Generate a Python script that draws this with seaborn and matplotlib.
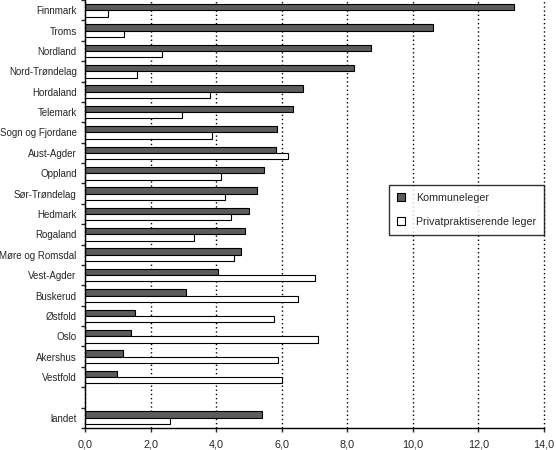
import pandas as pd
import matplotlib
matplotlib.use("Agg")
import matplotlib.pyplot as plt
import seaborn as sns
from matplotlib.ticker import FuncFormatter, FixedLocator

# data
fylker = ["Finnmark", "Troms", "Nordland", "Nord-Trøndelag", "Hordaland", "Telemark",
          "Sogn og Fjordane", "Aust-Agder", "Oppland", "Sør-Trøndelag", "Hedmark",
          "Rogaland", "Møre og Romsdal", "Vest-Agder", "Buskerud", "Østfold", "Oslo",
          "Akershus", "Vestfold", " ", "landet"]
kommuneleger = [13.1, 10.6, 8.72, 8.2, 6.66, 6.35, 5.87, 5.84, 5.45, 5.26, 5.0,
                4.89, 4.76, 4.05, 3.08, 1.52, 1.4, 1.15, 0.99, None, 5.41]
privatpraktiserende = [0.7, 1.19, 2.35, 1.6, 3.8, 2.97, 3.86, 6.2, 4.16, 4.27, 4.45,
                       3.32, 4.55, 7.03, 6.5, 5.76, 7.1, 5.88, 6.0, None, 2.58]
serier = ["Kommuneleger", "Privatpraktiserende leger"]

df = pd.DataFrame({"Fylke": fylker, serier[0]: kommuneleger, serier[1]: privatpraktiserende})
df = df[df["Fylke"] != " "].melt(id_vars="Fylke", var_name="Type", value_name="Verdi")

sns.set_style("white")
plt.rcParams["font.family"] = ["Liberation Sans", "DejaVu Sans"]

fig = plt.figure(figsize=(5.56, 4.5), dpi=100)
ax = fig.add_axes([85 / 556, 1 - 428 / 450, 459 / 556, 428 / 450])

sns.barplot(data=df, y="Fylke", x="Verdi", hue="Type", order=fylker, hue_order=serier,
            palette=["#5c5c5c", "white"], edgecolor="black", linewidth=0.8,
            width=0.62, orient="h", ax=ax)

ax.set_xlim(0, 14)
ax.set_ylim(len(fylker) - 0.5, -0.5)
ax.set_xticks(range(0, 15, 2))
ax.xaxis.set_major_formatter(FuncFormatter(lambda v, p: f"{v:.1f}".replace(".", ",")))
ax.grid(axis="x", color="black", linestyle=(0, (1, 2)), linewidth=1)
ax.grid(axis="y", visible=False)
ax.set_axisbelow(True)
for gl in ax.get_xgridlines():
    gl.set_clip_on(False)
ax.set_xlabel("")
ax.set_ylabel("")

# category boundary ticks on y axis
ax.yaxis.set_minor_locator(FixedLocator([i + 0.5 for i in range(-1, len(fylker))]))
ax.tick_params(axis="y", which="major", length=0, pad=6, labelsize=7)
ax.tick_params(axis="y", which="minor", length=3, width=1, direction="out", left=True)
ax.tick_params(axis="x", which="major", length=3, width=1, direction="out", bottom=True,
               labelsize=7.8, pad=5)

for s in ["top", "right"]:
    ax.spines[s].set_visible(False)
for s in ["left", "bottom"]:
    ax.spines[s].set_color("black")
    ax.spines[s].set_linewidth(1)

leg = ax.legend(loc="upper left", bbox_to_anchor=(0.662, 0.568), borderaxespad=0,
                fontsize=7.7, frameon=True, fancybox=False, edgecolor="black",
                handlelength=0.8, handleheight=0.8, handletextpad=1.0,
                labelspacing=1.3, borderpad=0.75)
leg.get_frame().set_linewidth(1)

fig.savefig("out.png", dpi=100)
